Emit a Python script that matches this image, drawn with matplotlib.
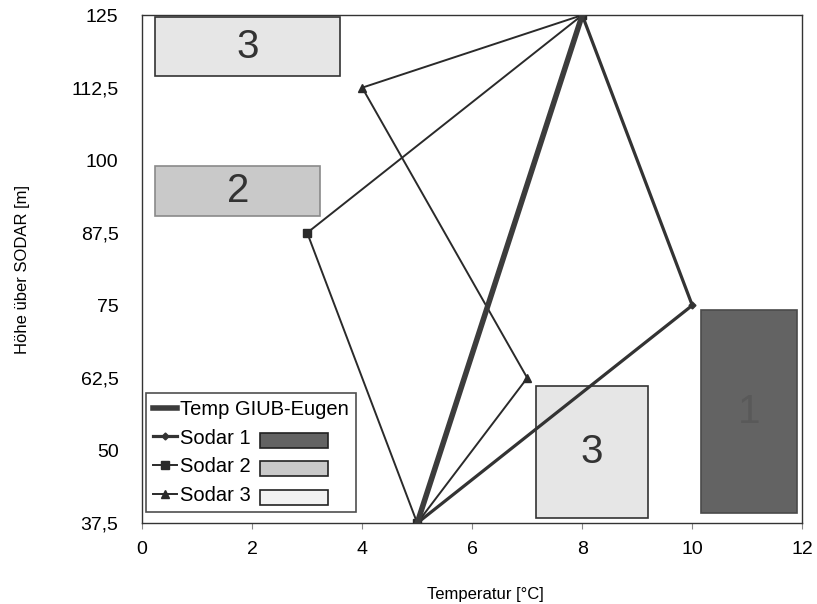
import matplotlib.pyplot as plt
from matplotlib.patches import Rectangle
from matplotlib.lines import Line2D

plt.rcParams["font.family"] = ["Liberation Sans", "DejaVu Sans"]

# Temperaturprofile (Temperatur [°C], Höhe [m])
temp_giub_t = [5, 8]
temp_giub_h = [37.5, 125]
sodar1_t = [5, 10, 8]
sodar1_h = [37.5, 75, 125]
sodar2_t = [5, 3, 8]
sodar2_h = [37.5, 87.5, 125]
sodar3_t = [5, 7, 4, 8]
sodar3_h = [37.5, 62.5, 112.5, 125]

# Schattierte Bereiche: (x0, x1, y0, y1, Sodar-Nr.)
box_x0 = [0.24, 0.24, 7.16, 10.15]
box_x1 = [3.6, 3.24, 9.2, 11.9]
box_y0 = [114.5, 90.4, 38.4, 39.2]
box_y1 = [124.6, 99.0, 61.1, 74.2]
box_id = ["3", "2", "3", "1"]

y_ticks = [37.5, 50, 62.5, 75, 87.5, 100, 112.5, 125]
y_labels = ["37,5", "50", "62,5", "75", "87,5", "100", "112,5", "125"]
x_ticks = [0, 2, 4, 6, 8, 10, 12]

fill = {"1": "#636363", "2": "#c9c9c9", "3": "#e6e6e6"}
edge = {"1": "#4a4a4a", "2": "#8a8a8a", "3": "#333333"}
txt = {"1": "#595959", "2": "#333333", "3": "#333333"}

fig = plt.figure(figsize=(8.17, 6.04), dpi=100)
ax = fig.add_axes([0.174, 0.134, 0.808, 0.841])

for x0, x1, y0, y1, n in zip(box_x0, box_x1, box_y0, box_y1, box_id):
    ax.add_patch(Rectangle((x0, y0), x1 - x0, y1 - y0, facecolor=fill[n],
                           edgecolor=edge[n], lw=1.2, zorder=1))
    ax.text((x0 + x1) / 2, (y0 + y1) / 2, n, ha="center", va="center",
            fontsize=29, color=txt[n], zorder=2)

ax.plot(sodar2_t, sodar2_h, color="#2a2a2a", lw=1.4, marker="s", ms=6, zorder=3)
ax.plot(sodar3_t, sodar3_h, color="#2a2a2a", lw=1.4, marker="^", ms=6, zorder=3)
ax.plot(sodar1_t, sodar1_h, color="#333333", lw=2.3, marker="D", ms=3.5, zorder=3)
ax.plot(temp_giub_t, temp_giub_h, color="#3c3c3c", lw=4, zorder=4)

ax.set_xlim(0, 12)
ax.set_ylim(37.5, 125)
ax.set_xticks(x_ticks)
ax.set_yticks(y_ticks)
ax.set_yticklabels(y_labels)
ax.tick_params(axis="both", labelsize=14, direction="out", length=4, color="#888888")
ax.tick_params(axis="x", pad=9)
ax.tick_params(axis="y", length=0, pad=17)
for s in ax.spines.values():
    s.set_color("#333333")
    s.set_linewidth(1.0)

ax.set_xlabel("Temperatur [°C]", fontsize=12, labelpad=18)
ax.set_ylabel("Höhe über SODAR [m]", fontsize=12, labelpad=30)
ax.xaxis.set_label_coords(0.52, -0.125)

handles = [
    Line2D([], [], color="#3c3c3c", lw=4),
    Line2D([], [], color="#333333", lw=2.3, marker="D", ms=3.5),
    Line2D([], [], color="#2a2a2a", lw=1.4, marker="s", ms=6),
    Line2D([], [], color="#2a2a2a", lw=1.4, marker="^", ms=6),
]
labels = ["Temp GIUB-Eugen", "Sodar 1", "Sodar 2", "Sodar 3"]
leg = ax.legend(handles, labels, loc="lower left",
                bbox_to_anchor=(0.006, 0.022), fontsize=14.5, frameon=True,
                fancybox=False, edgecolor="#222222", handlelength=1.2,
                handletextpad=0.15, labelspacing=0.48, borderpad=0.35,
                borderaxespad=0)
leg.get_frame().set_linewidth(1.2)
leg.set_zorder(5)

# Farbfelder neben den Sodar-Einträgen der Legende
swatch_fill = [fill["1"], fill["2"], "#f2f2f2"]
fig.canvas.draw()
inv = ax.transAxes.inverted()
for t, fc in zip(leg.get_texts()[1:], swatch_fill):
    bb = t.get_window_extent()
    yc = (bb.y0 + bb.y1) / 2 - 2
    (ax0, ay0) = inv.transform((260, yc - 7.5))
    (ax1, ay1) = inv.transform((328, yc + 7.5))
    ax.add_patch(Rectangle((ax0, ay0), ax1 - ax0, ay1 - ay0, transform=ax.transAxes,
                           facecolor=fc, edgecolor="#222222", lw=1.2, zorder=6))

fig.savefig("out.png", dpi=100, facecolor="white")
